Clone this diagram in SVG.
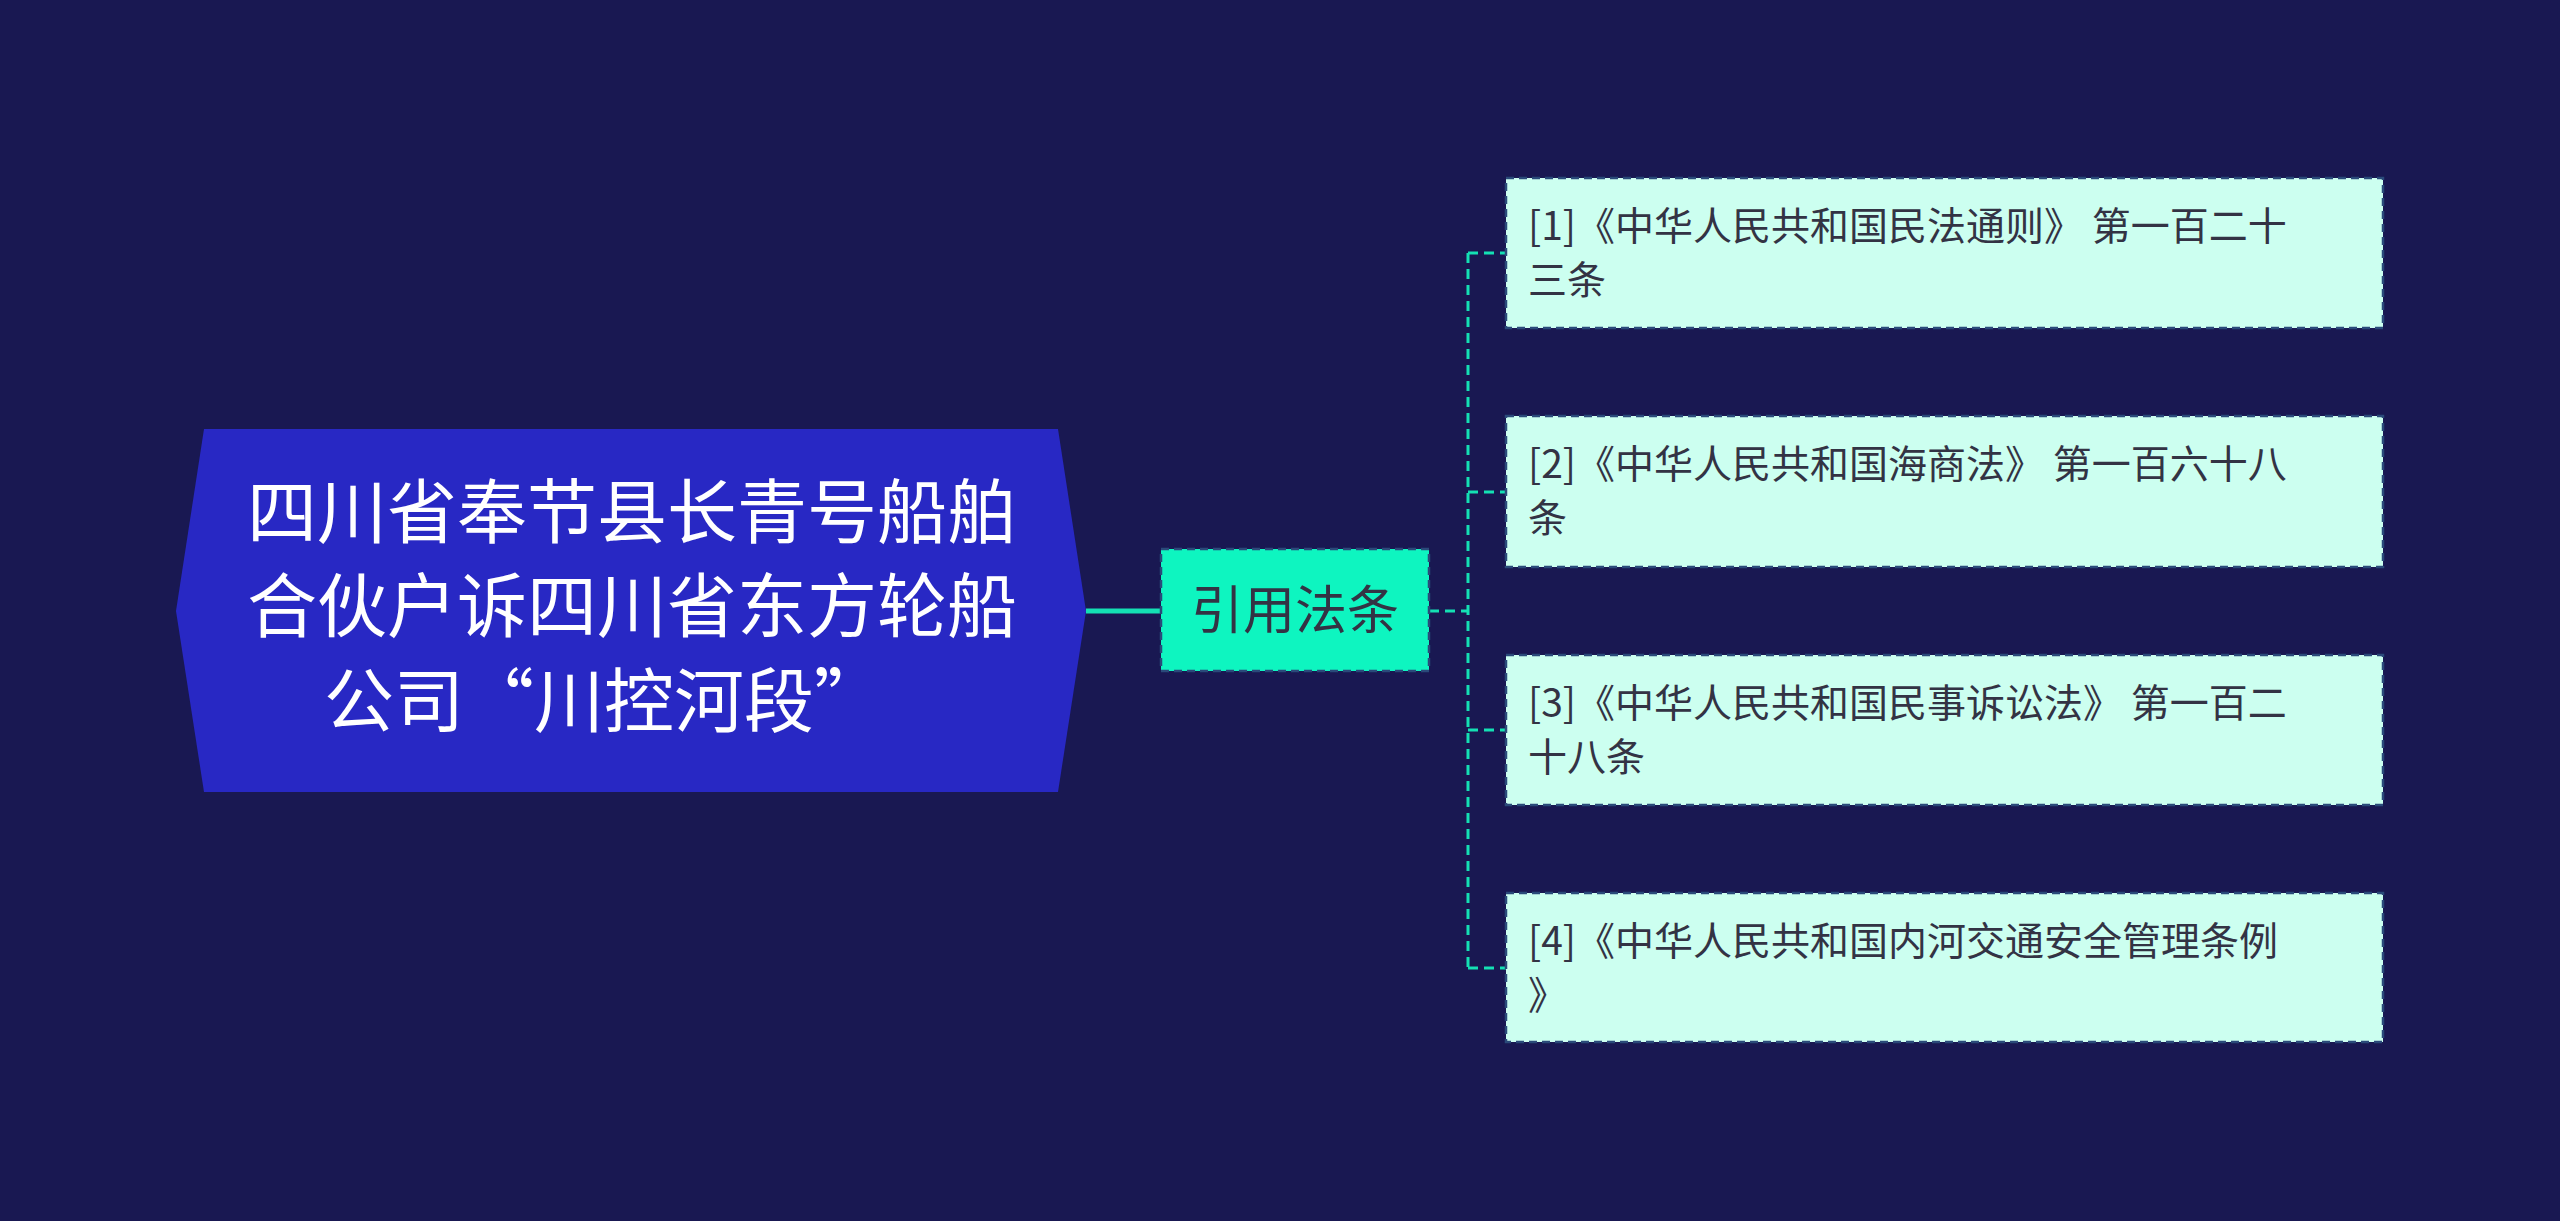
<svg xmlns="http://www.w3.org/2000/svg" width="2560" height="1221" viewBox="0 0 2560 1221">
<style>
text{font-family:"Noto Sans CJK SC","Liberation Sans",sans-serif}
.leaf rect{fill:#ccfff0;stroke:#2a4a7a;stroke-width:2.5;stroke-dasharray:8 5}
.leaf text{font-size:39px;fill:#333344}
.c{fill:none;stroke:#14e0b4;stroke-width:3;stroke-dasharray:10 6}
</style>
<rect width="2560" height="1221" fill="#191852"/>
<g id="connectors">
<line x1="1086" y1="611" x2="1161" y2="611" stroke="#14e0b4" stroke-width="5"/>
<path class="c" d="M1429 611H1468M1468 253V968M1468 253H1506M1468 492H1506M1468 730H1506M1468 968H1506"/>
</g>
<g id="root">
<polygon points="176,611 204,429 1058,429 1086,611 1058,792 204,792" fill="#2828c4"/>
<text x="632" y="538" font-size="70" fill="#ffffff" text-anchor="middle">四川省奉节县长青号船舶</text>
<text x="632" y="632" font-size="70" fill="#ffffff" text-anchor="middle">合伙户诉四川省东方轮船</text>
<text x="604" y="727" font-size="70" fill="#ffffff" text-anchor="middle">公司“川控河段”</text>
</g>
<g id="mid">
<rect x="1161" y="549" width="268" height="122" fill="#0ef5c0" stroke="#2a4a7a" stroke-width="2.5" stroke-dasharray="8 5"/>
<text x="1295" y="629" font-size="52" fill="#333344" text-anchor="middle">引用法条</text>
</g>
<g id="leaf1" class="leaf"><rect x="1506" y="178" width="877" height="150"/>
<text x="1528" y="240">[1]《中华人民共和国民法通则》 第一百二十</text><text x="1528" y="294">三条</text></g>
<g id="leaf2" class="leaf"><rect x="1506" y="416" width="877" height="151"/>
<text x="1528" y="478">[2]《中华人民共和国海商法》 第一百六十八</text><text x="1528" y="532">条</text></g>
<g id="leaf3" class="leaf"><rect x="1506" y="655" width="877" height="150"/>
<text x="1528" y="717">[3]《中华人民共和国民事诉讼法》 第一百二</text><text x="1528" y="771">十八条</text></g>
<g id="leaf4" class="leaf"><rect x="1506" y="893" width="877" height="149"/>
<text x="1528" y="955">[4]《中华人民共和国内河交通安全管理条例</text><text x="1528" y="1009">》</text></g>
</svg>
